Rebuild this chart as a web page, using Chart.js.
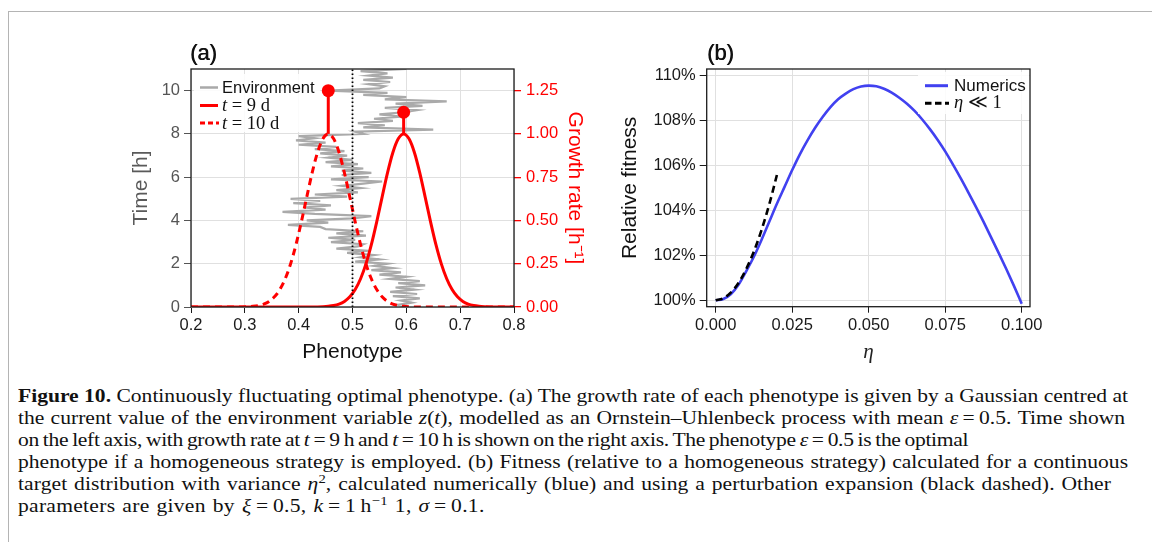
<!DOCTYPE html>
<html><head><meta charset="utf-8">
<script src="https://cdn.jsdelivr.net/npm/chart.js@4.4.1/dist/chart.umd.min.js"></script>
<style>
html,body{margin:0;padding:0;background:#fff;width:1152px;height:542px;overflow:hidden;position:relative;}
#frame{position:absolute;left:8px;top:11px;width:1160px;height:600px;border-top:1px solid #b4b4b4;border-left:1px solid #b4b4b4;}
canvas{position:absolute;top:0;}
#ca{left:0;}
#cb{left:600px;}
.cap{position:absolute;left:18px;white-space:nowrap;font-family:"Liberation Serif","DejaVu Serif",serif;font-size:19.5px;line-height:22px;color:#111;transform-origin:0 0;}
.cap sup{font-size:0.68em;line-height:0;vertical-align:0.5em;}
</style></head><body>
<div id="frame"></div>
<canvas id="ca" width="620" height="380"></canvas>
<canvas id="cb" width="552" height="380"></canvas>
<div class="cap" data-w="1110" style="top:385px"><b>Figure 10.</b> Continuously fluctuating optimal phenotype. (a) The growth rate of each phenotype is given by a Gaussian centred at</div>
<div class="cap" data-w="1107" style="top:407px">the current value of the environment variable <i>z</i>(<i>t</i>), modelled as an Ornstein–Uhlenbeck process with mean <i>ε</i>&thinsp;=&thinsp;0.5. Time shown</div>
<div class="cap" data-w="928" style="top:429px">on the left axis, with growth rate at <i>t</i>&thinsp;=&thinsp;9&thinsp;h and <i>t</i>&thinsp;=&thinsp;10&thinsp;h is shown on the right axis. The phenotype <i>ε</i>&thinsp;=&thinsp;0.5 is the optimal</div>
<div class="cap" data-w="1110" style="top:451px">phenotype if a homogeneous strategy is employed. (b) Fitness (relative to a homogeneous strategy) calculated for a continuous</div>
<div class="cap" data-w="1093" style="top:473px">target distribution with variance <i>η</i><sup>2</sup>, calculated numerically (blue) and using a perturbation expansion (black dashed). Other</div>
<div class="cap" data-w="484" style="top:495px">parameters are given by <i>ξ</i>&thinsp;=&thinsp;0.5, <i>k</i>&thinsp;=&thinsp;1&thinsp;h<sup>−1</sup> 1, <i>σ</i>&thinsp;=&thinsp;0.1.</div>
<script>
// ---------- Panel (a) data ----------
const phenotypeTicks = [0.2, 0.3, 0.4, 0.5, 0.6, 0.7, 0.8];
const timeTicks = [0, 2, 4, 6, 8, 10];
const growthTicks = [0, 0.25, 0.5, 0.75, 1.0, 1.25];
const timeMax = 11;
const growthMax = 1.375;

const envTime = [0,0.1,0.2,0.3,0.4,0.5,0.6,0.7,0.8,0.9,1,1.1,1.2,1.3,1.4,1.5,1.6,1.7,1.8,1.9,2,2.1,2.2,2.3,2.4,2.5,2.6,2.7,2.8,2.9,3,3.1,3.2,3.3,3.4,3.5,3.6,3.7,3.8,3.9,4,4.1,4.2,4.3,4.4,4.5,4.6,4.7,4.8,4.9,5,5.1,5.2,5.3,5.4,5.5,5.6,5.7,5.8,5.9,6,6.1,6.2,6.3,6.4,6.5,6.6,6.7,6.8,6.9,7,7.1,7.2,7.3,7.4,7.5,7.6,7.7,7.8,7.9,8,8.1,8.2,8.3,8.4,8.5,8.6,8.7,8.8,8.9,9,9.1,9.2,9.3,9.4,9.5,9.6,9.7,9.8,9.9,10,10.1,10.2,10.3,10.4,10.5,10.6,10.7,10.8,10.9,11];
const envPhenotype = [0.60,0.585,0.61,0.59,0.625,0.575,0.62,0.57,0.615,0.58,0.635,0.585,0.625,0.57,0.60,0.55,0.59,0.535,0.575,0.54,0.565,0.505,0.55,0.515,0.54,0.49,0.53,0.47,0.51,0.52,0.46,0.505,0.455,0.525,0.47,0.52,0.45,0.44,0.38,0.455,0.415,0.50,0.535,0.43,0.37,0.45,0.41,0.46,0.39,0.44,0.385,0.49,0.43,0.51,0.47,0.515,0.48,0.52,0.555,0.46,0.53,0.48,0.535,0.48,0.52,0.46,0.51,0.45,0.50,0.455,0.49,0.44,0.485,0.43,0.47,0.40,0.45,0.395,0.43,0.40,0.52,0.505,0.65,0.52,0.56,0.51,0.575,0.54,0.59,0.55,0.595,0.62,0.56,0.63,0.58,0.675,0.56,0.60,0.52,0.565,0.455,0.55,0.56,0.53,0.57,0.52,0.575,0.53,0.565,0.515,0.60];

const day9Phenotype = [0.2,0.435,0.445,0.455,0.465,0.475,0.485,0.495,0.505,0.515,0.525,0.535,0.545,0.555,0.565,0.575,0.585,0.595,0.605,0.615,0.625,0.635,0.645,0.655,0.665,0.675,0.685,0.695,0.705,0.715,0.725,0.735,0.745,0.755,0.8];
const day9Growth = [0,0.0007,0.0017,0.0039,0.0083,0.0169,0.0324,0.0588,0.1007,0.163,0.249,0.360,0.492,0.635,0.775,0.893,0.972,1.0,0.972,0.893,0.775,0.635,0.492,0.360,0.249,0.163,0.1007,0.0588,0.0324,0.0169,0.0083,0.0039,0.0017,0.0007,0];
const day10Phenotype = [0.2,0.295,0.305,0.315,0.325,0.335,0.345,0.355,0.365,0.375,0.385,0.395,0.405,0.415,0.425,0.435,0.445,0.455,0.465,0.475,0.485,0.495,0.505,0.515,0.525,0.535,0.545,0.555,0.565,0.575,0.585,0.595,0.605,0.615,0.8];
const day10Growth = [0,0.0007,0.0017,0.0039,0.0083,0.0169,0.0324,0.0588,0.1007,0.163,0.249,0.360,0.492,0.635,0.775,0.893,0.972,1.0,0.972,0.893,0.775,0.635,0.492,0.360,0.249,0.163,0.1007,0.0588,0.0324,0.0169,0.0083,0.0039,0.0017,0.0007,0];

const sampleTimes = [9, 10];
const samplePhenotype = [0.595, 0.455];
const peakGrowth = [1.0, 1.0];
const optimalPhenotype = 0.5;

// ---------- Panel (b) data ----------
const etaTicks = [0, 0.025, 0.05, 0.075, 0.1];
const fitnessTicks = [100, 102, 104, 106, 108, 110];
const etaValues = [0,0.0025,0.005,0.0075,0.01,0.0125,0.015,0.0175,0.02,0.0225,0.025,0.0275,0.03,0.0325,0.035,0.0375,0.04,0.0425,0.045,0.0475,0.05,0.0525,0.055,0.0575,0.06,0.0625,0.065,0.0675,0.07,0.0725,0.075,0.0775,0.08,0.0825,0.085,0.0875,0.09,0.0925,0.095,0.0975,0.1];
const numericFitness = [100.0,100.06,100.28,100.7,101.3,101.95,102.7,103.5,104.3,105.05,105.8,106.5,107.12,107.68,108.17,108.6,108.95,109.2,109.4,109.52,109.56,109.53,109.42,109.25,109.02,108.75,108.43,108.05,107.62,107.15,106.63,106.05,105.45,104.82,104.17,103.5,102.8,102.1,101.38,100.63,99.85];
const etaSmall = [0,0.0025,0.005,0.0075,0.01,0.0125,0.015,0.0175,0.02];
const perturbFitness = [100.0,100.09,100.35,100.78,101.4,102.18,103.14,104.27,105.58];

// ---------- helpers ----------
const SANS = '"Liberation Sans", Arial, Helvetica, sans-serif';
const SERIF = '"Liberation Serif", "DejaVu Serif", serif';
const pts = (xs, ys) => xs.map((x, i) => ({x, y: ys[i]}));
const fixedTicks = arr => s => { s.ticks = arr.map(v => ({value: v})); };
const GRID = '#e0e0e0';
const RED = '#ff0000';

const framePlugin = {
  id: 'frame',
  afterDatasetsDraw(chart) {
    const {ctx, chartArea: a} = chart;
    ctx.save();
    ctx.strokeStyle = '#1c1c1c';
    ctx.lineWidth = 1.3;
    ctx.strokeRect(a.left, a.top, a.right - a.left, a.bottom - a.top);
    ctx.restore();
  }
};

function drawMathLabel(ctx, x, y, italicPart, rest, size) {
  ctx.font = 'italic ' + size + 'px ' + SERIF;
  ctx.fillText(italicPart, x, y);
  const w = ctx.measureText(italicPart).width;
  ctx.font = size + 'px ' + SERIF;
  ctx.fillText(rest, x + w, y);
}

const legendA = {
  id: 'legendA',
  afterDraw(chart) {
    const ctx = chart.ctx;
    ctx.save();
    ctx.fillStyle = 'rgba(255,255,255,0.85)';
    ctx.fillRect(194, 74, 126, 58);
    ctx.lineCap = 'butt';
    ctx.strokeStyle = '#a9a9a9'; ctx.lineWidth = 2.5;
    ctx.beginPath(); ctx.moveTo(200, 87.5); ctx.lineTo(218, 87.5); ctx.stroke();
    ctx.strokeStyle = RED; ctx.lineWidth = 3;
    ctx.beginPath(); ctx.moveTo(200, 105.5); ctx.lineTo(218, 105.5); ctx.stroke();
    ctx.setLineDash([5, 3]);
    ctx.beginPath(); ctx.moveTo(200, 123); ctx.lineTo(219, 123); ctx.stroke();
    ctx.setLineDash([]);
    ctx.fillStyle = '#111';
    ctx.textBaseline = 'middle';
    ctx.font = '16.5px ' + SANS;
    ctx.fillText('Environment', 222, 88);
    drawMathLabel(ctx, 222, 106, 't', ' = 9 d', 18.5);
    drawMathLabel(ctx, 222, 124, 't', ' = 10 d', 18.5);
    ctx.font = '22px ' + SANS;
    ctx.textBaseline = 'alphabetic';
    ctx.fillText('(a)', 190, 60);
    ctx.fillText('(a)', 190.4, 60);
    ctx.restore();
  }
};

const legendB = {
  id: 'legendB',
  afterDraw(chart) {
    const ctx = chart.ctx;
    ctx.save();
    ctx.fillStyle = 'rgba(255,255,255,0.85)';
    ctx.fillRect(318, 72, 111, 42);
    ctx.strokeStyle = '#4141f0'; ctx.lineWidth = 3;
    ctx.beginPath(); ctx.moveTo(325, 85.7); ctx.lineTo(348, 85.7); ctx.stroke();
    ctx.strokeStyle = '#000'; ctx.setLineDash([6.5, 3.5]);
    ctx.beginPath(); ctx.moveTo(325, 103.3); ctx.lineTo(349, 103.3); ctx.stroke();
    ctx.setLineDash([]);
    ctx.fillStyle = '#111';
    ctx.textBaseline = 'middle';
    ctx.font = '17px ' + SANS;
    ctx.fillText('Numerics', 354, 86);
    drawMathLabel(ctx, 354, 103.5, 'η', ' ≪ 1', 18.5);
    ctx.font = '22px ' + SANS;
    ctx.textBaseline = 'alphabetic';
    ctx.fillText('(b)', 107, 60);
    ctx.fillText('(b)', 107.4, 60);
    ctx.restore();
  }
};

Chart.defaults.font.family = SANS;

// ---------- Panel (a) ----------
const stemSets = samplePhenotype.map((p, i) => ({
  label: 'stem' + i,
  data: [{x: p, y: peakGrowth[i]}, {x: p, y: sampleTimes[i] * growthMax / timeMax}],
  yAxisID: 'y2', showLine: true, borderColor: RED, backgroundColor: RED,
  borderWidth: 3, pointRadius: [0, 6.5], pointBorderWidth: 0, pointHoverRadius: 0, order: 0
}));

new Chart(document.getElementById('ca'), {
  type: 'scatter',
  data: {
    datasets: [
      ...stemSets,
      {label: 'optimum', data: [{x: optimalPhenotype, y: 0}, {x: optimalPhenotype, y: timeMax}],
       yAxisID: 'y', showLine: true, borderColor: '#000', borderWidth: 1.8, borderDash: [1.6, 2.4],
       pointRadius: 0, order: 1},
      {label: 't = 9 d', data: pts(day9Phenotype, day9Growth), yAxisID: 'y2', showLine: true,
       borderColor: RED, borderWidth: 3, pointRadius: 0, cubicInterpolationMode: 'monotone', order: 2},
      {label: 't = 10 d', data: pts(day10Phenotype, day10Growth), yAxisID: 'y2', showLine: true,
       borderColor: RED, borderWidth: 3, borderDash: [7, 5], pointRadius: 0, cubicInterpolationMode: 'monotone', order: 3},
      {label: 'Environment', data: pts(envPhenotype, envTime), yAxisID: 'y', showLine: true,
       borderColor: '#aaaaaa', borderWidth: 2.2, pointRadius: 0, order: 4}
    ]
  },
  options: {
    responsive: false, animation: false, events: [],
    layout: {padding: {left: 0, top: 69, right: 0, bottom: 0}},
    plugins: {legend: {display: false}, tooltip: {enabled: false}},
    scales: {
      x: {
        type: 'linear', position: 'bottom', min: 0.2, max: 0.8,
        afterFit: s => { s.height = 73; },
        afterBuildTicks: fixedTicks(phenotypeTicks),
        ticks: {callback: v => v.toFixed(1), color: '#1a1a1a', font: {size: 16.5}, padding: 3, maxRotation: 0},
        grid: {color: GRID, tickColor: '#1a1a1a', tickLength: 6, lineWidth: 1},
        border: {display: false},
        title: {display: true, text: 'Phenotype', color: '#111', font: {size: 21}, padding: {top: 0, bottom: 15.4}}
      },
      y: {
        type: 'linear', position: 'left', min: 0, max: timeMax,
        afterFit: s => { s.width = 191; },
        afterBuildTicks: fixedTicks(timeTicks),
        ticks: {callback: v => String(v), color: '#555', font: {size: 16.5}, padding: 4},
        grid: {color: GRID, tickColor: '#555', tickLength: 7, lineWidth: 1},
        border: {display: false},
        title: {display: true, text: 'Time [h]', color: '#5a5a5a', font: {size: 21}, padding: {top: 128.4, bottom: 0}}
      },
      y2: {
        type: 'linear', position: 'right', min: 0, max: growthMax,
        afterFit: s => { s.width = 106; },
        afterBuildTicks: fixedTicks(growthTicks),
        ticks: {callback: v => v.toFixed(2), color: RED, font: {size: 16.5}, padding: 5},
        grid: {drawOnChartArea: false, tickColor: RED, tickLength: 7, lineWidth: 1.3},
        border: {display: false},
        title: {display: true, text: 'Growth rate [h⁻¹]', color: RED, font: {size: 21}, padding: {top: 32.4, bottom: 0}}
      }
    }
  },
  plugins: [framePlugin, legendA]
});

// ---------- Panel (b) ----------
new Chart(document.getElementById('cb'), {
  type: 'scatter',
  data: {
    datasets: [
      {label: 'η ≪ 1', data: pts(etaSmall, perturbFitness), showLine: true, borderColor: '#000',
       borderWidth: 2.6, borderDash: [7, 4.5], pointRadius: 0, cubicInterpolationMode: 'monotone', order: 0},
      {label: 'Numerics', data: pts(etaValues, numericFitness), showLine: true, borderColor: '#4141f0',
       borderWidth: 2.6, pointRadius: 0, cubicInterpolationMode: 'monotone', order: 1}
    ]
  },
  options: {
    responsive: false, animation: false, events: [],
    layout: {padding: {left: 0, top: 69, right: 122, bottom: 0}},
    plugins: {legend: {display: false}, tooltip: {enabled: false}},
    scales: {
      x: {
        type: 'linear', position: 'bottom', min: -0.00294, max: 0.10271,
        afterFit: s => { s.height = 73.3; },
        afterBuildTicks: fixedTicks(etaTicks),
        ticks: {callback: v => v.toFixed(3), color: '#1a1a1a', font: {size: 16.5}, padding: 3, maxRotation: 0},
        grid: {color: GRID, tickColor: '#1a1a1a', tickLength: 6, lineWidth: 1},
        border: {display: false},
        title: {display: true, text: 'η', color: '#222', font: {size: 21, family: SERIF, style: 'italic'}, padding: {top: 0, bottom: 15.4}}
      },
      y: {
        type: 'linear', position: 'left', min: 99.715, max: 110.298,
        afterFit: s => { s.width = 106.7; },
        afterBuildTicks: fixedTicks(fitnessTicks),
        ticks: {callback: v => v.toFixed(0) + '%', color: '#1a1a1a', font: {size: 16.5}, padding: 4},
        grid: {color: GRID, tickColor: '#1a1a1a', tickLength: 7, lineWidth: 1},
        border: {display: false},
        title: {display: true, text: 'Relative fitness', color: '#111', font: {size: 21}, padding: {top: 17.4, bottom: 0}}
      }
    }
  },
  plugins: [framePlugin, legendB]
});

// ---------- caption width fitting: common horizontal scale, gentle spacing adjustments ----------
(function fitCaption() {
  const caps = [...document.querySelectorAll('.cap')];
  const nat = caps.map(el => el.getBoundingClientRect().width);
  const s = parseFloat(caps[0].dataset.w) / nat[0];
  caps.forEach((el, i) => {
    if (i > 0) {
      const txt = el.textContent;
      const n = txt.length;
      const nSp = (txt.match(/ /g) || []).length || 1;
      let d = parseFloat(el.dataset.w) / s - nat[i];
      const ws = Math.max(-1.0, Math.min(1.2, d / nSp));
      d -= ws * nSp;
      const ls = Math.max(-0.3, Math.min(0.25, d / n));
      el.style.wordSpacing = ws.toFixed(3) + 'px';
      el.style.letterSpacing = ls.toFixed(3) + 'px';
    }
    el.style.transform = 'scaleX(' + s.toFixed(4) + ')';
  });
})();
</script>
</body></html>
